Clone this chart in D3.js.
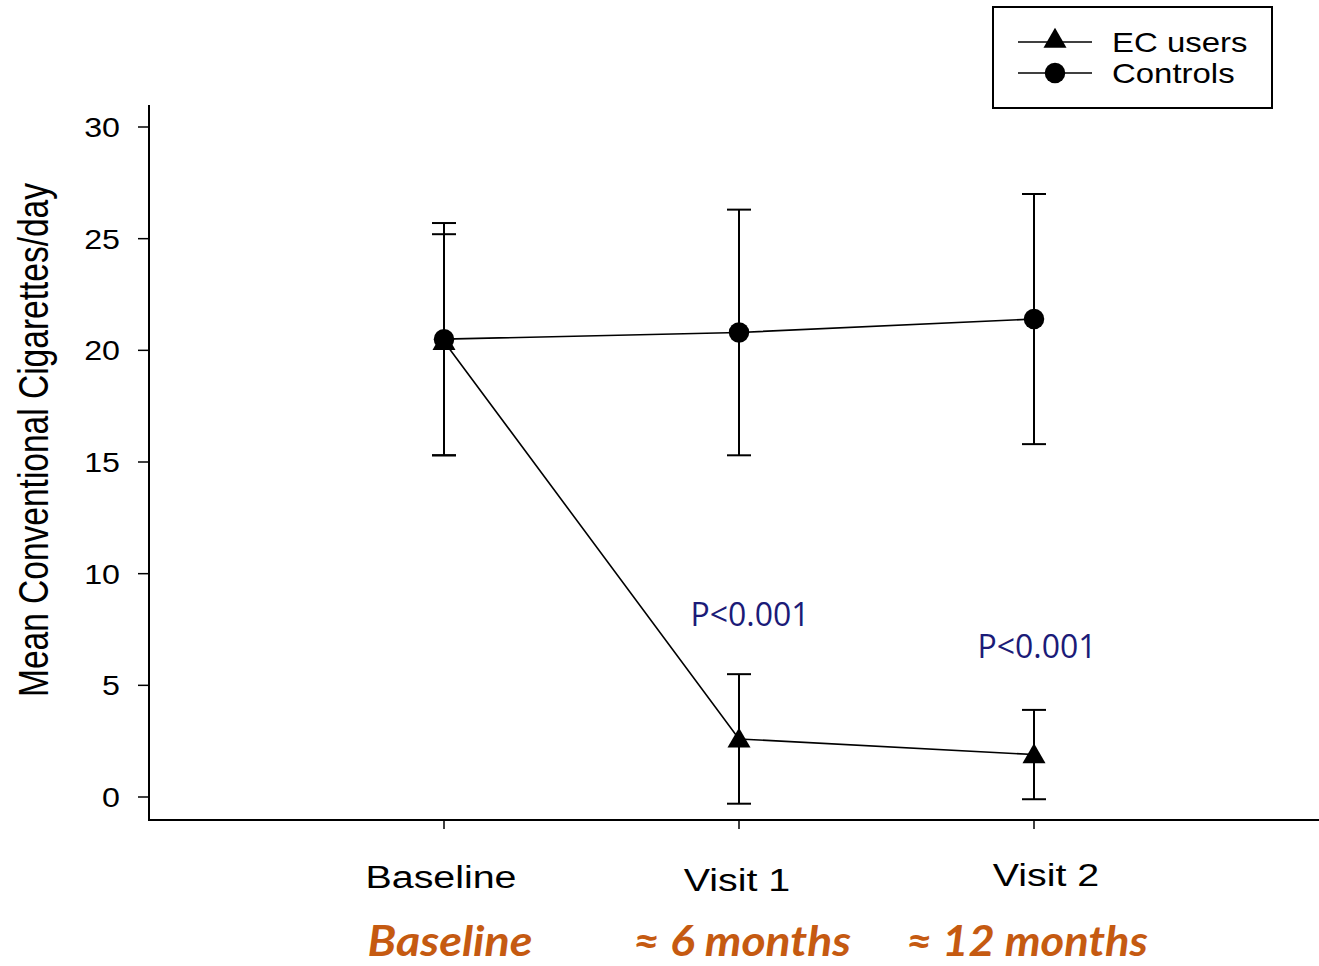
<!DOCTYPE html>
<html><head><meta charset="utf-8">
<script src="https://cdn.jsdelivr.net/npm/d3@7"></script>
<style>body{margin:0;background:#fff}svg{display:block}</style>
</head><body>
<script>
const categories = ["Baseline", "Visit 1", "Visit 2"];
const periodLabels = ["Baseline", "≈ 6 months", "≈ 12 months"];
const ecMean = [20.4, 2.6, 1.9];
const ecUpper = [25.2, 5.5, 3.9];
const ecLower = [15.3, -0.3, -0.1];
const ctrlMean = [20.5, 20.8, 21.4];
const ctrlUpper = [25.7, 26.3, 27.0];
const ctrlLower = [15.3, 15.3, 15.8];
const yTicks = [0, 5, 10, 15, 20, 25, 30];
const pLabels = ["", "P<0.001", "P<0.001"];

const W = 1319, H = 966;
const svg = d3.select("body").append("svg").attr("width", W).attr("height", H);
const SANS = "Liberation Sans, Arial, sans-serif";

const x = d3.scalePoint().domain(categories).range([444, 1034]);
const y = d3.scaleLinear().domain([0, 30]).range([797, 127]);

function stext(g, tx, ty, str, opts) {
  const t = g.append("text").attr("font-family", opts.family || SANS).attr("font-size", opts.size)
    .attr("text-anchor", opts.anchor || "start").attr("fill", opts.fill || "#000").text(str);
  if (opts.dy) t.attr("dy", opts.dy);
  t.attr("transform", `translate(${tx},${ty}) scale(${opts.sx || 1},1)`);
  return t;
}

// axes
svg.append("line").attr("x1", 149).attr("x2", 149).attr("y1", 105).attr("y2", 821).attr("stroke", "#000").attr("stroke-width", 2);
svg.append("line").attr("x1", 148).attr("x2", 1319).attr("y1", 820).attr("y2", 820).attr("stroke", "#000").attr("stroke-width", 2);

const yAxis = svg.append("g");
yTicks.forEach(t => {
  yAxis.append("line").attr("x1", 138).attr("x2", 149).attr("y1", y(t)).attr("y2", y(t)).attr("stroke", "#000").attr("stroke-width", 1.5);
  stext(yAxis, 120, y(t), t, {size: 28, anchor: "end", dy: "0.36em", sx: 1.15});
});
categories.forEach(c => {
  svg.append("line").attr("x1", x(c)).attr("x2", x(c)).attr("y1", 820).attr("y2", 829).attr("stroke", "#000").attr("stroke-width", 1.5);
});

// category labels
const catOffsets = [[-3, 888], [-2, 891], [12, 886]];
categories.forEach((c, i) => {
  stext(svg, x(c) + catOffsets[i][0], catOffsets[i][1], c, {size: 31, anchor: "middle", sx: 1.27});
});
// period labels
const perX = [450, 742, 1027];
const perW = [165, 218, 242];
periodLabels.forEach((p, i) => {
  svg.append("text").attr("x", perX[i]).attr("y", 956).attr("text-anchor", "middle")
    .attr("font-family", "Lato, Open Sans, sans-serif").attr("font-weight", "bold").attr("font-style", "italic")
    .attr("font-size", 42).attr("fill", "#C55A11")
    .attr("textLength", perW[i]).attr("lengthAdjust", "spacingAndGlyphs").text(p);
});

// y label
svg.append("text").attr("transform", "translate(48,440) rotate(-90)").attr("text-anchor", "middle")
  .attr("font-family", "Liberation Sans Narrow, Arial Narrow, Liberation Sans, sans-serif").attr("font-size", 42)
  .attr("textLength", 514).attr("lengthAdjust", "spacingAndGlyphs")
  .text("Mean Conventional Cigarettes/day");

function series(mean, upper, lower, shape) {
  const g = svg.append("g");
  const pts = categories.map((c, i) => ({x: x(c), m: mean[i], u: upper[i], l: lower[i]}));
  pts.forEach(p => {
    g.append("line").attr("x1", p.x).attr("x2", p.x).attr("y1", y(p.u)).attr("y2", y(p.l)).attr("stroke", "#000").attr("stroke-width", 2);
    [p.u, p.l].forEach(v => g.append("line").attr("x1", p.x - 12).attr("x2", p.x + 12).attr("y1", y(v)).attr("y2", y(v)).attr("stroke", "#000").attr("stroke-width", 2));
  });
  g.append("path").attr("d", d3.line().x(p => p.x).y(p => y(p.m))(pts)).attr("fill", "none").attr("stroke", "#000").attr("stroke-width", 1.6);
  const sym = d3.symbol().type(shape).size(shape === d3.symbolTriangle ? 230 : 330);
  pts.forEach(p => {
    g.append("path").attr("d", sym()).attr("transform", `translate(${p.x},${y(p.m) + (shape === d3.symbolTriangle ? 2 : 0)})`).attr("fill", "#000");
  });
}
series(ecMean, ecUpper, ecLower, d3.symbolTriangle);
series(ctrlMean, ctrlUpper, ctrlLower, d3.symbolCircle);

// p labels
const pPos = [[0, 0], [750, 626], [1037, 658]];
pLabels.forEach((t, i) => {
  if (!t) return;
  svg.append("text").attr("x", pPos[i][0]).attr("y", pPos[i][1]).attr("text-anchor", "middle")
    .attr("font-family", "Open Sans, Lato, sans-serif").attr("font-size", 32).attr("fill", "#1B1B78")
    .attr("textLength", 119).attr("lengthAdjust", "spacingAndGlyphs").text(t);
});

// legend
const lg = svg.append("g");
lg.append("rect").attr("x", 993).attr("y", 7).attr("width", 279).attr("height", 101).attr("fill", "#fff").attr("stroke", "#000").attr("stroke-width", 2);
const legItems = [["EC users", d3.symbolTriangle, 42, 230], ["Controls", d3.symbolCircle, 73, 330]];
legItems.forEach(([name, shape, ly, sz]) => {
  lg.append("line").attr("x1", 1018).attr("x2", 1092).attr("y1", ly).attr("y2", ly).attr("stroke", "#000").attr("stroke-width", 1.6);
  lg.append("path").attr("d", d3.symbol().type(shape).size(sz)()).attr("transform", `translate(1055,${ly + (shape === d3.symbolTriangle ? -1 : 0)})`).attr("fill", "#000");
  stext(lg, 1112, ly, name, {size: 27, dy: "0.36em", sx: 1.22});
});
</script>
</body></html>
